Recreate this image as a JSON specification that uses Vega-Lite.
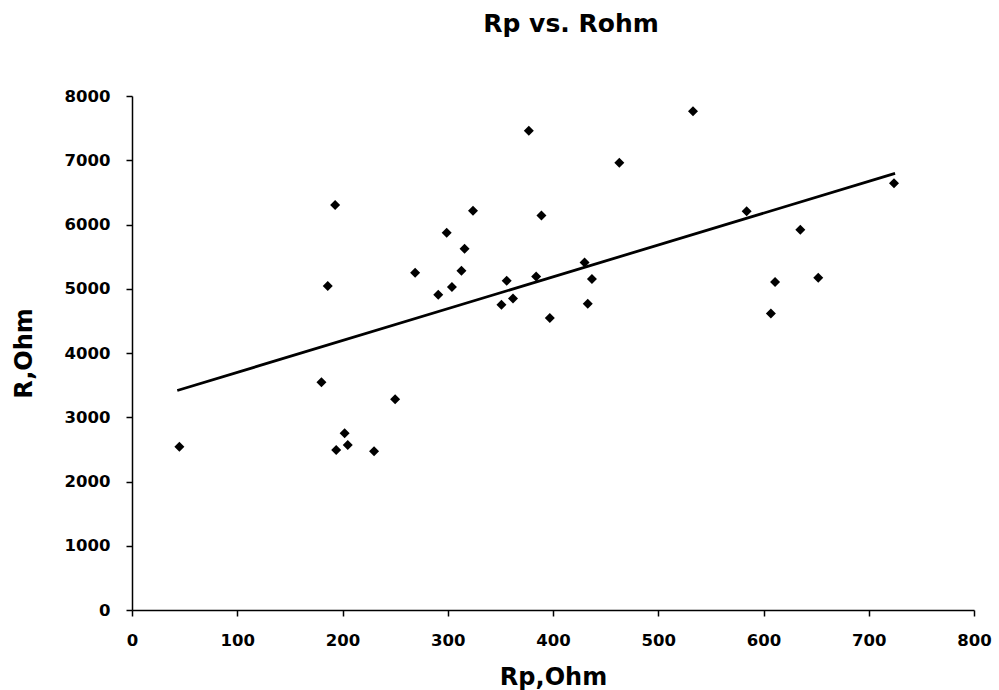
{
  "$schema": "https://vega.github.io/schema/vega-lite/v6.json",
  "width": 842,
  "height": 514,
  "autosize": "none",
  "padding": {"left": 132, "top": 96, "right": 25, "bottom": 80},
  "background": "white",
  "config": {
    "view": {"stroke": null},
    "font": "DejaVu Sans"
  },
  "title": {
    "text": "Rp vs. Rohm",
    "font": "DejaVu Sans",
    "fontSize": 25,
    "fontWeight": "bold",
    "color": "black",
    "frame": "group",
    "baseline": "alphabetic",
    "offset": 31,
    "dx": 18,
    "anchor": "middle"
  },
  "datasets": {
    "points": [
      {"rp": 45, "r": 2540},
      {"rp": 180, "r": 3546},
      {"rp": 250, "r": 3281},
      {"rp": 202, "r": 2752},
      {"rp": 205, "r": 2570},
      {"rp": 194, "r": 2492},
      {"rp": 230, "r": 2471},
      {"rp": 377, "r": 7461},
      {"rp": 193, "r": 6303},
      {"rp": 324, "r": 6215},
      {"rp": 389, "r": 6142},
      {"rp": 299, "r": 5872},
      {"rp": 316, "r": 5623},
      {"rp": 269, "r": 5249},
      {"rp": 313, "r": 5280},
      {"rp": 384, "r": 5192},
      {"rp": 186, "r": 5042},
      {"rp": 356, "r": 5125},
      {"rp": 304, "r": 5026},
      {"rp": 291, "r": 4907},
      {"rp": 362, "r": 4850},
      {"rp": 351, "r": 4751},
      {"rp": 397, "r": 4543},
      {"rp": 533, "r": 7762},
      {"rp": 463, "r": 6963},
      {"rp": 584, "r": 6205},
      {"rp": 635, "r": 5919},
      {"rp": 724, "r": 6641},
      {"rp": 430, "r": 5410},
      {"rp": 437, "r": 5151},
      {"rp": 433, "r": 4766},
      {"rp": 611, "r": 5104},
      {"rp": 652, "r": 5171},
      {"rp": 607, "r": 4616}
    ],
    "trend": [
      {"rp": 43, "r": 3416},
      {"rp": 725, "r": 6796}
    ]
  },
  "layer": [
    {
      "data": {"name": "trend"},
      "mark": {"type": "line", "color": "black", "strokeWidth": 2.8},
      "encoding": {
        "x": {"field": "rp", "type": "quantitative"},
        "y": {"field": "r", "type": "quantitative"}
      }
    },
    {
      "data": {"name": "points"},
      "mark": {"type": "point", "shape": "diamond", "filled": true, "color": "black", "size": 100, "opacity": 1},
      "encoding": {
        "x": {
          "field": "rp",
          "type": "quantitative",
          "scale": {"domain": [0, 800], "nice": false, "zero": true},
          "axis": {
            "title": "Rp,Ohm",
            "values": [0, 100, 200, 300, 400, 500, 600, 700, 800],
            "format": "d",
            "grid": false,
            "domainColor": "black",
            "domainWidth": 1.5,
            "tickColor": "black",
            "tickWidth": 1.5,
            "tickSize": 6,
            "labelFont": "DejaVu Sans",
            "labelFontSize": 16.5,
            "labelFontWeight": "bold",
            "labelColor": "black",
            "labelPadding": 16,
            "labelFlush": false,
            "titleFont": "DejaVu Sans",
            "titleFontSize": 24,
            "titleFontWeight": "bold",
            "titleColor": "black",
            "titlePadding": 17
          }
        },
        "y": {
          "field": "r",
          "type": "quantitative",
          "scale": {"domain": [0, 8000], "nice": false},
          "axis": {
            "title": "R,Ohm",
            "values": [0, 1000, 2000, 3000, 4000, 5000, 6000, 7000, 8000],
            "format": "d",
            "grid": false,
            "domainColor": "black",
            "domainWidth": 1.5,
            "tickColor": "black",
            "tickWidth": 1.5,
            "tickSize": 6,
            "labelFont": "DejaVu Sans",
            "labelFontSize": 16.5,
            "labelFontWeight": "bold",
            "labelColor": "black",
            "labelPadding": 16,
            "labelFlush": false,
            "titleFont": "DejaVu Sans",
            "titleFontSize": 24,
            "titleFontWeight": "bold",
            "titleColor": "black",
            "titlePadding": 28
          }
        }
      }
    }
  ]
}
